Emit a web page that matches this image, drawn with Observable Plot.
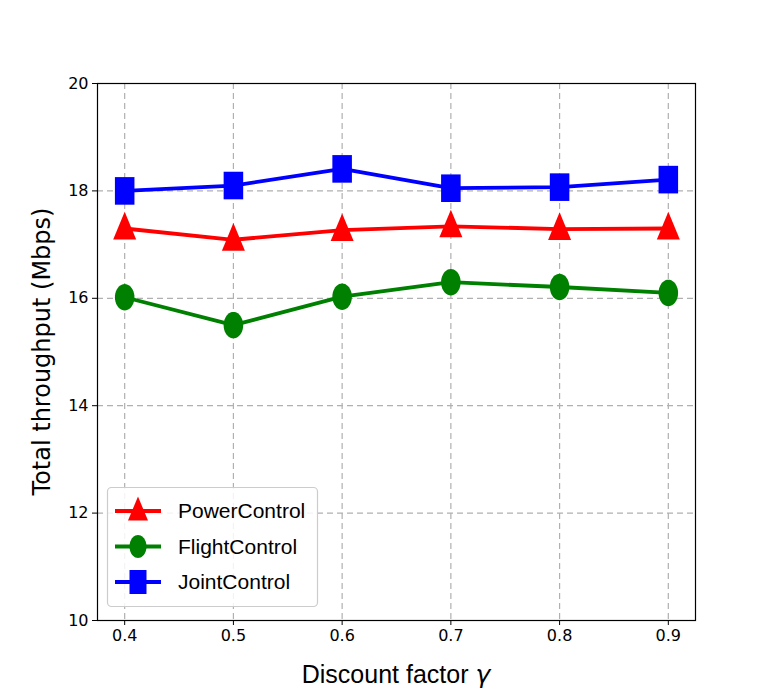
<!DOCTYPE html>
<html><head><meta charset="utf-8">
<script src="https://cdn.jsdelivr.net/npm/d3@7"></script>
<script src="https://cdn.jsdelivr.net/npm/@observablehq/plot@0.6"></script>
<style>body{margin:0;background:#fff}</style>
</head><body><div id="chart"></div>
<script>
const gammas = [0.4, 0.5, 0.6, 0.7, 0.8, 0.9];
const powerControl = [17.30, 17.09, 17.27, 17.34, 17.29, 17.30];
const flightControl = [16.02, 15.50, 16.03, 16.30, 16.21, 16.10];
const jointControl = [18.00, 18.10, 18.41, 18.05, 18.07, 18.21];
const yTicks = [10, 12, 14, 16, 18, 20];
const seriesNames = ["PowerControl", "FlightControl", "JointControl"];
const seriesColors = ["#ff0000", "#008000", "#0000ff"];

const tri = {draw(c, s){const r=Math.sqrt(s/Math.PI); c.moveTo(0,-1.45*r); c.lineTo(r,0.95*r); c.lineTo(-r,0.95*r); c.closePath();}};
const ell = {draw(c, s){const r=Math.sqrt(s/Math.PI); const rx=0.85*r, ry=1.15*r; c.moveTo(rx,0); for(let i=1;i<=40;i++){const a=i/40*2*Math.PI; c.lineTo(rx*Math.cos(a), ry*Math.sin(a));} c.closePath();}};
const sq = {draw(c, s){const r=Math.sqrt(s/Math.PI); const w=0.85*r, h=1.2*r; c.moveTo(-w,-h); c.lineTo(w,-h); c.lineTo(w,h); c.lineTo(-w,h); c.closePath();}};
const symbols = [tri, ell, sq];

const data = [];
[powerControl, flightControl, jointControl].forEach((arr, k) => arr.forEach((v, i) => data.push({g: gammas[i], v, s: seriesNames[k]})));

const W = 772, H = 697, ml = 97, mr = 77, mt = 83, mb = 77;
const plot = Plot.plot({
  width: W, height: H,
  marginLeft: ml, marginRight: mr, marginTop: mt, marginBottom: mb,
  style: {fontFamily: "DejaVu Sans", fontSize: "16px", color: "#000", background: "#fff"},
  x: {domain: [0.375, 0.925], ticks: gammas, tickFormat: d3.format(".1f"), label: null, tickSize: 5, tickPadding: 4},
  y: {domain: [10, 20], ticks: yTicks, label: null, tickSize: 5, tickPadding: 4},
  color: {domain: seriesNames, range: seriesColors},
  marks: [
    Plot.gridX(gammas, {stroke: "#b0b0b0", strokeOpacity: 1, strokeDasharray: "6,4", strokeWidth: 1.2}),
    Plot.gridY(yTicks, {stroke: "#b0b0b0", strokeOpacity: 1, strokeDasharray: "6,4", strokeWidth: 1.2}),
    Plot.axisX({ticks: gammas, tickFormat: d3.format(".1f"), fontSize: 16, tickSize: 5}),
    Plot.axisY({ticks: yTicks, fontSize: 16, tickSize: 5}),
    Plot.line(data, {x: "g", y: "v", z: "s", stroke: "s", strokeWidth: 3.8}),
    ...seriesNames.map((n, k) => Plot.dot(data.filter(d => d.s === n), {x: "g", y: "v", fill: seriesColors[k], stroke: "none", symbol: symbols[k], r: 11.5})),
    Plot.frame({stroke: "#000", strokeWidth: 1.2})
  ]
});
document.getElementById("chart").appendChild(plot);

const svg = d3.select(plot);
svg.append("text").attr("x", ml + (W - ml - mr) / 2).attr("y", 683).attr("text-anchor", "middle")
  .attr("font-family", "Liberation Sans, Arial").attr("font-size", 25).attr("fill", "#000")
  .html('Discount factor <tspan font-style="italic" font-family="DejaVu Sans">γ</tspan>');
svg.append("text").attr("transform", `translate(50,${mt + (H - mt - mb) / 2}) rotate(-90)`).attr("text-anchor", "middle")
  .attr("font-family", "DejaVu Sans").attr("font-size", 24).attr("fill", "#000").text("Total throughput (Mbps)");

// legend
const lg = svg.append("g");
lg.append("rect").attr("x", 107.5).attr("y", 487.5).attr("width", 210).attr("height", 119).attr("rx", 4)
  .attr("fill", "#fff").attr("fill-opacity", 0.85).attr("stroke", "#cccccc").attr("stroke-width", 1.2);
const sym = d3.symbol().size(Math.PI * 10 * 10);
seriesNames.forEach((n, k) => {
  const cy = 511 + k * 35.5;
  lg.append("line").attr("x1", 115).attr("x2", 161).attr("y1", cy).attr("y2", cy).attr("stroke", seriesColors[k]).attr("stroke-width", 3.8);
  lg.append("path").attr("transform", `translate(138,${cy})`).attr("d", sym.type(symbols[k])()).attr("fill", seriesColors[k]);
  lg.append("text").attr("x", 178).attr("y", cy + 7).attr("text-anchor", "start").attr("font-family", "Liberation Sans, Arial").attr("font-size", 21).attr("fill", "#000").text(n);
});
</script></body></html>
